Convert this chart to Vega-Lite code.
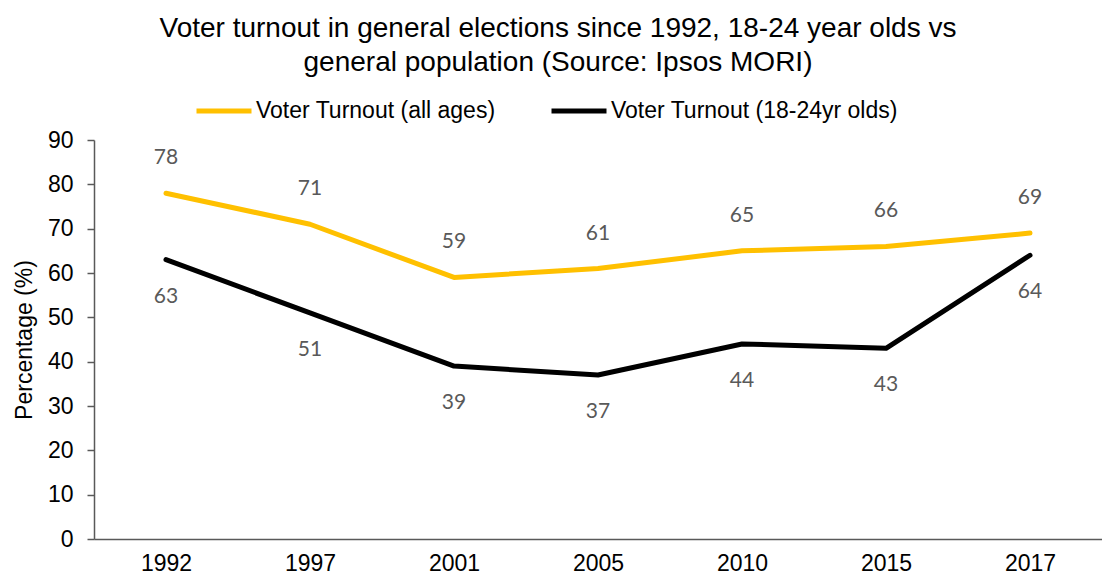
{
  "$schema": "https://vega.github.io/schema/vega-lite/v6.json",
  "width": 1008,
  "height": 399,
  "autosize": "none",
  "padding": {"left": 94, "top": 140, "right": 0, "bottom": 39},
  "background": "white",
  "title": {
    "text": ["Voter turnout in general elections since 1992, 18-24 year olds vs", "general population (Source: Ipsos MORI)"],
    "font": "Liberation Sans",
    "fontSize": 28,
    "fontWeight": "normal",
    "color": "#000000",
    "lineHeight": 34,
    "anchor": "middle",
    "dx": -40,
    "offset": 4
  },
  "config": {
    "view": {"stroke": null},
    "axis": {"grid": false}
  },
  "data": {
    "values": [
      {"year": "1992", "series": "Voter Turnout (all ages)", "value": 78},
      {"year": "1997", "series": "Voter Turnout (all ages)", "value": 71},
      {"year": "2001", "series": "Voter Turnout (all ages)", "value": 59},
      {"year": "2005", "series": "Voter Turnout (all ages)", "value": 61},
      {"year": "2010", "series": "Voter Turnout (all ages)", "value": 65},
      {"year": "2015", "series": "Voter Turnout (all ages)", "value": 66},
      {"year": "2017", "series": "Voter Turnout (all ages)", "value": 69},
      {"year": "1992", "series": "Voter Turnout (18-24yr olds)", "value": 63},
      {"year": "1997", "series": "Voter Turnout (18-24yr olds)", "value": 51},
      {"year": "2001", "series": "Voter Turnout (18-24yr olds)", "value": 39},
      {"year": "2005", "series": "Voter Turnout (18-24yr olds)", "value": 37},
      {"year": "2010", "series": "Voter Turnout (18-24yr olds)", "value": 44},
      {"year": "2015", "series": "Voter Turnout (18-24yr olds)", "value": 43},
      {"year": "2017", "series": "Voter Turnout (18-24yr olds)", "value": 64}
    ]
  },
  "encoding": {
    "x": {
      "field": "year",
      "type": "ordinal",
      "scale": {"type": "point", "padding": 0.5},
      "axis": {
        "title": null,
        "labelAngle": 0,
        "labelFont": "Liberation Sans",
        "labelFontSize": 23,
        "labelColor": "#000000",
        "labelPadding": 13,
        "ticks": false,
        "domainColor": "#595959",
        "domainWidth": 1.5
      }
    },
    "y": {
      "field": "value",
      "type": "quantitative",
      "scale": {"domain": [0, 90]},
      "axis": {
        "title": "Percentage (%)",
        "titleFont": "Liberation Sans",
        "titleFontSize": 23,
        "titleFontWeight": "normal",
        "titleColor": "#000000",
        "titlePadding": 11,
        "values": [0, 10, 20, 30, 40, 50, 60, 70, 80, 90],
        "labelFont": "Liberation Sans",
        "labelFontSize": 23,
        "labelColor": "#000000",
        "labelPadding": 14,
        "tickSize": 7,
        "tickColor": "#595959",
        "tickWidth": 1.5,
        "domainColor": "#595959",
        "domainWidth": 1.5
      }
    }
  },
  "layer": [
    {
      "mark": {"type": "line", "strokeWidth": 5, "strokeCap": "round", "strokeJoin": "round"},
      "encoding": {
        "color": {
          "field": "series",
          "type": "nominal",
          "scale": {
            "domain": ["Voter Turnout (all ages)", "Voter Turnout (18-24yr olds)"],
            "range": ["#FFC000", "#000000"]
          },
          "legend": {
            "title": null,
            "orient": "none",
            "direction": "horizontal",
            "legendX": 100,
            "legendY": -59,
            "symbolType": "stroke",
            "symbolSize": 3025,
            "symbolStrokeWidth": 5,
            "labelFont": "Liberation Sans",
            "labelFontSize": 23,
            "labelColor": "#000000",
            "labelOffset": 2,
            "labelLimit": 400,
            "columnPadding": 45
          }
        }
      }
    },
    {
      "transform": [{"filter": "datum.series === 'Voter Turnout (all ages)'"}],
      "mark": {"type": "text", "dy": -35, "font": "Lato", "fontSize": 21, "color": "#595959"},
      "encoding": {"text": {"field": "value", "type": "quantitative"}}
    },
    {
      "transform": [{"filter": "datum.series === 'Voter Turnout (18-24yr olds)'"}],
      "mark": {"type": "text", "dy": 37, "font": "Lato", "fontSize": 21, "color": "#595959"},
      "encoding": {"text": {"field": "value", "type": "quantitative"}}
    }
  ]
}
